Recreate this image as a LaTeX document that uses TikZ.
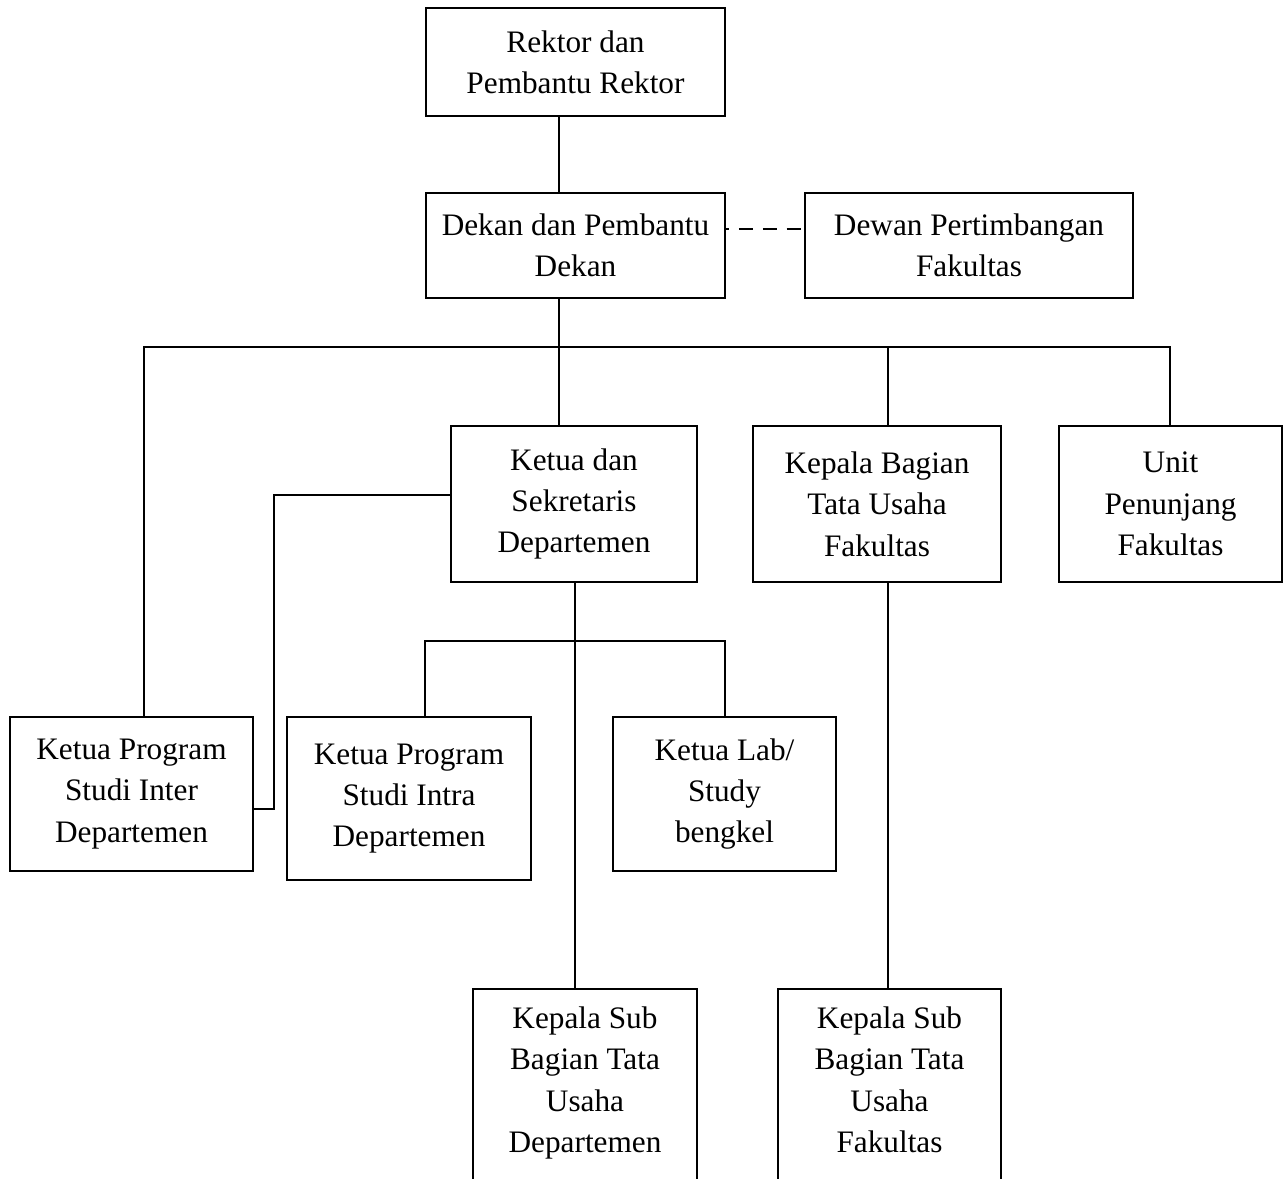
\documentclass[tikz,border=0pt]{standalone}
\usepackage{fontspec}
\setmainfont{Liberation Serif}

\begin{document}
\begin{tikzpicture}[
    x=0.02cm,
    y=-0.02cm,
    line width=1.1pt,
    txt/.style={align=center,
        inner sep=0pt,
        font=\fontsize{17.8}{23.5}\selectfont},
    box/.style={draw, txt},
    dashlink/.style={dash pattern=on 7.9pt off 5.7pt, dash phase=6.2pt}]

\useasboundingbox (0,0) rectangle (1284,1178);
\clip (0,0) rectangle (1284,1178);

% Top
\node[box, minimum width=5.98cm, minimum height=2.16cm] (rektor) at (575.5,62) {Rektor dan\\Pembantu Rektor};
\node[box, minimum width=5.98cm, minimum height=2.10cm] (dekan) at (575.5,245.5) {Dekan dan Pembantu\\Dekan};
\node[box, minimum width=6.56cm, minimum height=2.10cm] (dewan) at (969,245.5) {Dewan Pertimbangan\\Fakultas};

% Second row
\node[box, minimum width=4.92cm, minimum height=3.12cm] (ketua) at (574,504) {Ketua dan\\Sekretaris\\Departemen};
\node[box, minimum width=4.96cm, minimum height=3.12cm] (kabag) at (877,504) {Kepala Bagian\\Tata Usaha\\Fakultas};
\node[box, minimum width=4.46cm, minimum height=3.12cm] (unit) at (1170.5,504) {Unit\\Penunjang\\Fakultas};

% Third row
\node[box, minimum width=4.86cm, minimum height=3.08cm] (inter) at (131.5,794) {Ketua Program\\Studi Inter\\Departemen};
\node[box, minimum width=4.88cm, minimum height=3.26cm] (intra) at (409,798.5) {Ketua Program\\Studi Intra\\Departemen};
\node[box, minimum width=4.46cm, minimum height=3.08cm] (lab) at (724.5,794) {Ketua Lab/\\Study\\bengkel};

% Bottom (cut off by the page)
\node[draw, minimum width=4.48cm, minimum height=5cm, anchor=north] (ksubdept) at (585,988) {};
\node[txt, anchor=north] (ksubdepttxt) at (585,1006) {Kepala Sub\\Bagian Tata\\Usaha\\Departemen};
\node[draw, minimum width=4.46cm, minimum height=5cm, anchor=north] (ksubfak) at (889.5,988) {};
\node[txt, anchor=north] (ksubfaktxt) at (889.5,1006) {Kepala Sub\\Bagian Tata\\Usaha\\Fakultas};

% Connectors
\coordinate (busL) at (144,347);
\coordinate (busD) at (559,347);
\coordinate (busK) at (888,347);
\coordinate (busR) at (1170,347);
\coordinate (dashy) at (0,229);
\coordinate (elbow) at (274,495);
\coordinate (hook) at (274,809);
\coordinate (subL) at (425,641);
\coordinate (subD) at (575,641);
\coordinate (subR) at (725,641);

\draw (rektor.south -| busD) -- (dekan.north -| busD);
\draw (dekan.south -| busD) -- (busD);
\draw[dashlink] (dekan.east |- dashy) -- (dewan.west |- dashy);

\draw (inter.north -| busL) -- (busL) -- (busR) -- (unit.north -| busR);
\draw (busD) -- (ketua.north -| busD);
\draw (busK) -- (kabag.north -| busK);

\draw (ketua.west |- elbow) -- (elbow) -- (hook) -- (inter.east |- hook);

\draw (intra.north -| subL) -- (subL) -- (subR) -- (lab.north -| subR);
\draw (ketua.south -| subD) -- (ksubdept.north -| subD);
\draw (kabag.south -| busK) -- (ksubfak.north -| busK);

\end{tikzpicture}
\end{document}
